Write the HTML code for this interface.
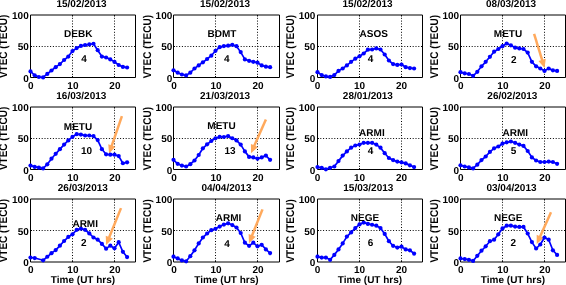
<!DOCTYPE html>
<html><head><meta charset="utf-8"><title>VTEC</title>
<style>
html,body{margin:0;padding:0;background:#fff;width:566px;height:285px;overflow:hidden;}
svg{display:block;will-change:transform;}
text{font-family:"Liberation Sans",sans-serif;text-rendering:geometricPrecision;}
.b{font-weight:bold;font-size:10px;fill:#000;}
.st{font-size:10px;font-weight:bold;fill:#000;}
.nm{font-size:10px;font-weight:bold;fill:#000;}
</style></head><body>
<svg width="566" height="285" viewBox="0 0 566 285">
<rect width="566" height="285" fill="#fff"/>
<g>
<path d="M72.5 15V77.5M114.5 15V77.5M30.5 46.5H135.5" stroke="#000" stroke-width="1" stroke-dasharray="1 1.8" fill="none"/>
<path d="M30.5 15H135.5V77.5H30.5Z" stroke="#000" stroke-width="1" fill="none"/>
<path d="M72.5 15v1.5M72.5 77.5v-1.5M114.5 15v1.5M114.5 77.5v-1.5M30.5 46.5h1.5M135.5 46.5h-1.5" stroke="#000" stroke-width="1" fill="none"/>
<path d="M30.5 71.38 34.7 75.31 38.9 77 43.1 77.38 47.3 73.88 51.5 70.5 55.7 67.19 59.9 64.06 64.1 60 68.3 56.56 72.5 51.06 76.7 48.12 80.9 45.94 85.1 45 89.3 44.38 93.5 43.75 97.7 50.19 101.9 56.56 106.1 57.5 110.3 59.38 114.5 61.88 118.7 65 122.9 66.88 127.1 67.5" stroke="#0000FF" stroke-width="1.7" fill="none" stroke-linejoin="round"/>
<g fill="#0000FF"><circle cx="30.5" cy="71.38" r="2.1"/><circle cx="34.7" cy="75.31" r="2.1"/><circle cx="38.9" cy="77" r="2.1"/><circle cx="43.1" cy="77.38" r="2.1"/><circle cx="47.3" cy="73.88" r="2.1"/><circle cx="51.5" cy="70.5" r="2.1"/><circle cx="55.7" cy="67.19" r="2.1"/><circle cx="59.9" cy="64.06" r="2.1"/><circle cx="64.1" cy="60" r="2.1"/><circle cx="68.3" cy="56.56" r="2.1"/><circle cx="72.5" cy="51.06" r="2.1"/><circle cx="76.7" cy="48.12" r="2.1"/><circle cx="80.9" cy="45.94" r="2.1"/><circle cx="85.1" cy="45" r="2.1"/><circle cx="89.3" cy="44.38" r="2.1"/><circle cx="93.5" cy="43.75" r="2.1"/><circle cx="97.7" cy="50.19" r="2.1"/><circle cx="101.9" cy="56.56" r="2.1"/><circle cx="106.1" cy="57.5" r="2.1"/><circle cx="110.3" cy="59.38" r="2.1"/><circle cx="114.5" cy="61.88" r="2.1"/><circle cx="118.7" cy="65" r="2.1"/><circle cx="122.9" cy="66.88" r="2.1"/><circle cx="127.1" cy="67.5" r="2.1"/></g>
<text class="st" x="78.2" y="37.3" text-anchor="middle">DEBK</text>
<text class="nm" x="84" y="62.4" text-anchor="middle">4</text>
<text class="b" x="81.5" y="6.8" text-anchor="middle">15/02/2013</text>
<text class="b" x="28.75" y="81.6" text-anchor="end">0</text>
<text class="b" x="28.75" y="50.35" text-anchor="end">50</text>
<text class="b" x="28.75" y="19.1" text-anchor="end">100</text>
<text class="b" x="30.9" y="88.8" text-anchor="middle">0</text>
<text class="b" x="72.9" y="88.8" text-anchor="middle">10</text>
<text class="b" x="114.9" y="88.8" text-anchor="middle">20</text>
<text class="b" transform="translate(7.1 46.45) rotate(-90) scale(1 1.12)" x="0" y="0" text-anchor="middle">VTEC (TECU)</text>
</g>
<g>
<path d="M215.5 15V77.5M257.5 15V77.5M173.5 46.5H279.5" stroke="#000" stroke-width="1" stroke-dasharray="1 1.8" fill="none"/>
<path d="M173.5 15H279.5V77.5H173.5Z" stroke="#000" stroke-width="1" fill="none"/>
<path d="M215.5 15v1.5M215.5 77.5v-1.5M257.5 15v1.5M257.5 77.5v-1.5M173.5 46.5h1.5M279.5 46.5h-1.5" stroke="#000" stroke-width="1" fill="none"/>
<path d="M173.5 70.31 177.7 72.69 181.9 74.5 186.1 75.38 190.3 72.69 194.5 68.5 198.7 65.38 202.9 62.31 207.1 59 211.3 55.69 215.5 50.81 219.7 47.19 223.9 46.06 228.1 45.69 232.3 44.81 236.5 46.19 240.7 52.12 244.9 59.38 249.1 60.81 253.3 61.81 257.5 62.69 261.7 65.38 265.9 66.69 270.1 67.19" stroke="#0000FF" stroke-width="1.7" fill="none" stroke-linejoin="round"/>
<g fill="#0000FF"><circle cx="173.5" cy="70.31" r="2.1"/><circle cx="177.7" cy="72.69" r="2.1"/><circle cx="181.9" cy="74.5" r="2.1"/><circle cx="186.1" cy="75.38" r="2.1"/><circle cx="190.3" cy="72.69" r="2.1"/><circle cx="194.5" cy="68.5" r="2.1"/><circle cx="198.7" cy="65.38" r="2.1"/><circle cx="202.9" cy="62.31" r="2.1"/><circle cx="207.1" cy="59" r="2.1"/><circle cx="211.3" cy="55.69" r="2.1"/><circle cx="215.5" cy="50.81" r="2.1"/><circle cx="219.7" cy="47.19" r="2.1"/><circle cx="223.9" cy="46.06" r="2.1"/><circle cx="228.1" cy="45.69" r="2.1"/><circle cx="232.3" cy="44.81" r="2.1"/><circle cx="236.5" cy="46.19" r="2.1"/><circle cx="240.7" cy="52.12" r="2.1"/><circle cx="244.9" cy="59.38" r="2.1"/><circle cx="249.1" cy="60.81" r="2.1"/><circle cx="253.3" cy="61.81" r="2.1"/><circle cx="257.5" cy="62.69" r="2.1"/><circle cx="261.7" cy="65.38" r="2.1"/><circle cx="265.9" cy="66.69" r="2.1"/><circle cx="270.1" cy="67.19" r="2.1"/></g>
<text class="st" x="221.9" y="37.3" text-anchor="middle">BDMT</text>
<text class="nm" x="226.9" y="62.2" text-anchor="middle">4</text>
<text class="b" x="225.1" y="6.8" text-anchor="middle">15/02/2013</text>
<text class="b" x="172.3" y="81.6" text-anchor="end">0</text>
<text class="b" x="172.3" y="50.35" text-anchor="end">50</text>
<text class="b" x="172.3" y="19.1" text-anchor="end">100</text>
<text class="b" x="174.1" y="88.8" text-anchor="middle">0</text>
<text class="b" x="216.1" y="88.8" text-anchor="middle">10</text>
<text class="b" x="258.1" y="88.8" text-anchor="middle">20</text>
<text class="b" transform="translate(151.4 46.65) rotate(-90) scale(1 1.12)" x="0" y="0" text-anchor="middle">VTEC (TECU)</text>
</g>
<g>
<path d="M359.5 15V77.5M401.5 15V77.5M317.5 46.5H422.5" stroke="#000" stroke-width="1" stroke-dasharray="1 1.8" fill="none"/>
<path d="M317.5 15H422.5V77.5H317.5Z" stroke="#000" stroke-width="1" fill="none"/>
<path d="M359.5 15v1.5M359.5 77.5v-1.5M401.5 15v1.5M401.5 77.5v-1.5M317.5 46.5h1.5M422.5 46.5h-1.5" stroke="#000" stroke-width="1" fill="none"/>
<path d="M317.5 72.19 321.7 75.12 325.9 76.38 330.1 76.88 334.3 75.12 338.5 70.88 342.7 68.5 346.9 65.38 351.1 61.81 355.3 58.69 359.5 56.31 363.7 53.5 367.9 49.69 372.1 49.5 376.3 48.38 380.5 49.5 384.7 54.5 388.9 60.5 393.1 64.12 397.3 64.88 401.5 64.5 405.7 67.19 409.9 68.12 414.1 68.5" stroke="#0000FF" stroke-width="1.7" fill="none" stroke-linejoin="round"/>
<g fill="#0000FF"><circle cx="317.5" cy="72.19" r="2.1"/><circle cx="321.7" cy="75.12" r="2.1"/><circle cx="325.9" cy="76.38" r="2.1"/><circle cx="330.1" cy="76.88" r="2.1"/><circle cx="334.3" cy="75.12" r="2.1"/><circle cx="338.5" cy="70.88" r="2.1"/><circle cx="342.7" cy="68.5" r="2.1"/><circle cx="346.9" cy="65.38" r="2.1"/><circle cx="351.1" cy="61.81" r="2.1"/><circle cx="355.3" cy="58.69" r="2.1"/><circle cx="359.5" cy="56.31" r="2.1"/><circle cx="363.7" cy="53.5" r="2.1"/><circle cx="367.9" cy="49.69" r="2.1"/><circle cx="372.1" cy="49.5" r="2.1"/><circle cx="376.3" cy="48.38" r="2.1"/><circle cx="380.5" cy="49.5" r="2.1"/><circle cx="384.7" cy="54.5" r="2.1"/><circle cx="388.9" cy="60.5" r="2.1"/><circle cx="393.1" cy="64.12" r="2.1"/><circle cx="397.3" cy="64.88" r="2.1"/><circle cx="401.5" cy="64.5" r="2.1"/><circle cx="405.7" cy="67.19" r="2.1"/><circle cx="409.9" cy="68.12" r="2.1"/><circle cx="414.1" cy="68.5" r="2.1"/></g>
<text class="st" x="373.7" y="37.4" text-anchor="middle">ASOS</text>
<text class="nm" x="370.6" y="62.3" text-anchor="middle">4</text>
<text class="b" x="367.6" y="6.8" text-anchor="middle">15/02/2013</text>
<text class="b" x="315.4" y="81.6" text-anchor="end">0</text>
<text class="b" x="315.4" y="50.35" text-anchor="end">50</text>
<text class="b" x="315.4" y="19.1" text-anchor="end">100</text>
<text class="b" x="317.5" y="88.8" text-anchor="middle">0</text>
<text class="b" x="359.5" y="88.8" text-anchor="middle">10</text>
<text class="b" x="401.5" y="88.8" text-anchor="middle">20</text>
<text class="b" transform="translate(294.4 46.65) rotate(-90) scale(1 1.12)" x="0" y="0" text-anchor="middle">VTEC (TECU)</text>
</g>
<g>
<path d="M502.5 15V77.5M544.5 15V77.5M460.5 46.5H565.5" stroke="#000" stroke-width="1" stroke-dasharray="1 1.8" fill="none"/>
<path d="M460.5 15H565.5V77.5H460.5Z" stroke="#000" stroke-width="1" fill="none"/>
<path d="M502.5 15v1.5M502.5 77.5v-1.5M544.5 15v1.5M544.5 77.5v-1.5M460.5 46.5h1.5M565.5 46.5h-1.5" stroke="#000" stroke-width="1" fill="none"/>
<path d="M534.1 33.8L542.4 60.83" stroke="#FFA95C" stroke-width="2.5" fill="none"/>
<path d="M544.6 68L538.47 60.99L545.74 58.76Z" fill="#FFA95C"/>
<path d="M460.5 72.19 464.7 73.31 468.9 74 473.1 75.81 477.3 71.81 481.5 66.31 485.7 61.81 489.9 56.81 494.1 51.69 498.3 49 502.5 46.19 506.7 43.5 510.9 45.31 515.1 47.69 519.3 48.38 523.5 49 527.7 52.62 531.9 61.81 536.1 66.31 540.3 68.5 544.5 70.88 548.7 68.5 552.9 70.31 557.1 70.88" stroke="#0000FF" stroke-width="1.7" fill="none" stroke-linejoin="round"/>
<g fill="#0000FF"><circle cx="460.5" cy="72.19" r="2.1"/><circle cx="464.7" cy="73.31" r="2.1"/><circle cx="468.9" cy="74" r="2.1"/><circle cx="473.1" cy="75.81" r="2.1"/><circle cx="477.3" cy="71.81" r="2.1"/><circle cx="481.5" cy="66.31" r="2.1"/><circle cx="485.7" cy="61.81" r="2.1"/><circle cx="489.9" cy="56.81" r="2.1"/><circle cx="494.1" cy="51.69" r="2.1"/><circle cx="498.3" cy="49" r="2.1"/><circle cx="502.5" cy="46.19" r="2.1"/><circle cx="506.7" cy="43.5" r="2.1"/><circle cx="510.9" cy="45.31" r="2.1"/><circle cx="515.1" cy="47.69" r="2.1"/><circle cx="519.3" cy="48.38" r="2.1"/><circle cx="523.5" cy="49" r="2.1"/><circle cx="527.7" cy="52.62" r="2.1"/><circle cx="531.9" cy="61.81" r="2.1"/><circle cx="536.1" cy="66.31" r="2.1"/><circle cx="540.3" cy="68.5" r="2.1"/><circle cx="544.5" cy="70.88" r="2.1"/><circle cx="548.7" cy="68.5" r="2.1"/><circle cx="552.9" cy="70.31" r="2.1"/><circle cx="557.1" cy="70.88" r="2.1"/></g>
<text class="st" x="508" y="37.3" text-anchor="middle">METU</text>
<text class="nm" x="513.8" y="62.5" text-anchor="middle">2</text>
<text class="b" x="511.1" y="6.8" text-anchor="middle">08/03/2013</text>
<text class="b" x="459.1" y="81.6" text-anchor="end">0</text>
<text class="b" x="459.1" y="50.35" text-anchor="end">50</text>
<text class="b" x="459.1" y="19.1" text-anchor="end">100</text>
<text class="b" x="460.9" y="88.8" text-anchor="middle">0</text>
<text class="b" x="502.9" y="88.8" text-anchor="middle">10</text>
<text class="b" x="544.9" y="88.8" text-anchor="middle">20</text>
<text class="b" transform="translate(437.8 46.65) rotate(-90) scale(1 1.12)" x="0" y="0" text-anchor="middle">VTEC (TECU)</text>
</g>
<g>
<path d="M72.5 107V169.5M114.5 107V169.5M30.5 138.5H135.5" stroke="#000" stroke-width="1" stroke-dasharray="1 1.8" fill="none"/>
<path d="M30.5 107H135.5V169.5H30.5Z" stroke="#000" stroke-width="1" fill="none"/>
<path d="M72.5 107v1.5M72.5 169.5v-1.5M114.5 107v1.5M114.5 169.5v-1.5M30.5 138.5h1.5M135.5 138.5h-1.5" stroke="#000" stroke-width="1" fill="none"/>
<path d="M121.9 116.1L111.53 146.4" stroke="#FFA95C" stroke-width="2.5" fill="none"/>
<path d="M109.1 153.5L108.26 144.23L115.45 146.69Z" fill="#FFA95C"/>
<path d="M30.5 165.62 34.7 166.88 38.9 167.56 43.1 168.38 47.3 164.31 51.5 158.69 55.7 153.81 59.9 149.19 64.1 144.62 68.3 140.38 72.5 136.81 76.7 134.19 80.9 134.62 85.1 135.5 89.3 135.5 93.5 136.12 97.7 140.12 101.9 149.19 106.1 154.31 110.3 154.69 114.5 154.69 118.7 156.12 122.9 163.25 127.1 162.31" stroke="#0000FF" stroke-width="1.7" fill="none" stroke-linejoin="round"/>
<g fill="#0000FF"><circle cx="30.5" cy="165.62" r="2.1"/><circle cx="34.7" cy="166.88" r="2.1"/><circle cx="38.9" cy="167.56" r="2.1"/><circle cx="43.1" cy="168.38" r="2.1"/><circle cx="47.3" cy="164.31" r="2.1"/><circle cx="51.5" cy="158.69" r="2.1"/><circle cx="55.7" cy="153.81" r="2.1"/><circle cx="59.9" cy="149.19" r="2.1"/><circle cx="64.1" cy="144.62" r="2.1"/><circle cx="68.3" cy="140.38" r="2.1"/><circle cx="72.5" cy="136.81" r="2.1"/><circle cx="76.7" cy="134.19" r="2.1"/><circle cx="80.9" cy="134.62" r="2.1"/><circle cx="85.1" cy="135.5" r="2.1"/><circle cx="89.3" cy="135.5" r="2.1"/><circle cx="93.5" cy="136.12" r="2.1"/><circle cx="97.7" cy="140.12" r="2.1"/><circle cx="101.9" cy="149.19" r="2.1"/><circle cx="106.1" cy="154.31" r="2.1"/><circle cx="110.3" cy="154.69" r="2.1"/><circle cx="114.5" cy="154.69" r="2.1"/><circle cx="118.7" cy="156.12" r="2.1"/><circle cx="122.9" cy="163.25" r="2.1"/><circle cx="127.1" cy="162.31" r="2.1"/></g>
<text class="st" x="78" y="129.5" text-anchor="middle">METU</text>
<text class="nm" x="86.6" y="154.1" text-anchor="middle">10</text>
<text class="b" x="81.35" y="98.8" text-anchor="middle">16/03/2013</text>
<text class="b" x="28.75" y="173.6" text-anchor="end">0</text>
<text class="b" x="28.75" y="142.35" text-anchor="end">50</text>
<text class="b" x="28.75" y="111.1" text-anchor="end">100</text>
<text class="b" x="30.9" y="180.8" text-anchor="middle">0</text>
<text class="b" x="72.9" y="180.8" text-anchor="middle">10</text>
<text class="b" x="114.9" y="180.8" text-anchor="middle">20</text>
<text class="b" transform="translate(7.1 138.45) rotate(-90) scale(1 1.12)" x="0" y="0" text-anchor="middle">VTEC (TECU)</text>
</g>
<g>
<path d="M215.5 107V169.5M257.5 107V169.5M173.5 138.5H279.5" stroke="#000" stroke-width="1" stroke-dasharray="1 1.8" fill="none"/>
<path d="M173.5 107H279.5V169.5H173.5Z" stroke="#000" stroke-width="1" fill="none"/>
<path d="M215.5 107v1.5M215.5 169.5v-1.5M257.5 107v1.5M257.5 169.5v-1.5M173.5 138.5h1.5M279.5 138.5h-1.5" stroke="#000" stroke-width="1" fill="none"/>
<path d="M265.9 119.4L254.03 146.34" stroke="#FFA95C" stroke-width="2.5" fill="none"/>
<path d="M251 153.2L250.95 143.89L257.91 146.96Z" fill="#FFA95C"/>
<path d="M173.5 159.81 177.7 163.81 181.9 165.62 186.1 166.5 190.3 164.19 194.5 160.5 198.7 155 202.9 148.31 207.1 144.31 211.3 141 215.5 138.25 219.7 136.81 223.9 137 228.1 136.12 232.3 138.25 236.5 140.38 240.7 144.62 244.9 151.38 249.1 156.88 253.3 157.38 257.5 158.69 261.7 157.38 265.9 155.62 270.1 159.81" stroke="#0000FF" stroke-width="1.7" fill="none" stroke-linejoin="round"/>
<g fill="#0000FF"><circle cx="173.5" cy="159.81" r="2.1"/><circle cx="177.7" cy="163.81" r="2.1"/><circle cx="181.9" cy="165.62" r="2.1"/><circle cx="186.1" cy="166.5" r="2.1"/><circle cx="190.3" cy="164.19" r="2.1"/><circle cx="194.5" cy="160.5" r="2.1"/><circle cx="198.7" cy="155" r="2.1"/><circle cx="202.9" cy="148.31" r="2.1"/><circle cx="207.1" cy="144.31" r="2.1"/><circle cx="211.3" cy="141" r="2.1"/><circle cx="215.5" cy="138.25" r="2.1"/><circle cx="219.7" cy="136.81" r="2.1"/><circle cx="223.9" cy="137" r="2.1"/><circle cx="228.1" cy="136.12" r="2.1"/><circle cx="232.3" cy="138.25" r="2.1"/><circle cx="236.5" cy="140.38" r="2.1"/><circle cx="240.7" cy="144.62" r="2.1"/><circle cx="244.9" cy="151.38" r="2.1"/><circle cx="249.1" cy="156.88" r="2.1"/><circle cx="253.3" cy="157.38" r="2.1"/><circle cx="257.5" cy="158.69" r="2.1"/><circle cx="261.7" cy="157.38" r="2.1"/><circle cx="265.9" cy="155.62" r="2.1"/><circle cx="270.1" cy="159.81" r="2.1"/></g>
<text class="st" x="221.5" y="129.4" text-anchor="middle">METU</text>
<text class="nm" x="230" y="153.9" text-anchor="middle">13</text>
<text class="b" x="225.1" y="98.8" text-anchor="middle">21/03/2013</text>
<text class="b" x="172.3" y="173.6" text-anchor="end">0</text>
<text class="b" x="172.3" y="142.35" text-anchor="end">50</text>
<text class="b" x="172.3" y="111.1" text-anchor="end">100</text>
<text class="b" x="174.1" y="180.8" text-anchor="middle">0</text>
<text class="b" x="216.1" y="180.8" text-anchor="middle">10</text>
<text class="b" x="258.1" y="180.8" text-anchor="middle">20</text>
<text class="b" transform="translate(151.4 138.65) rotate(-90) scale(1 1.12)" x="0" y="0" text-anchor="middle">VTEC (TECU)</text>
</g>
<g>
<path d="M359.5 107V169.5M401.5 107V169.5M317.5 138.5H422.5" stroke="#000" stroke-width="1" stroke-dasharray="1 1.8" fill="none"/>
<path d="M317.5 107H422.5V169.5H317.5Z" stroke="#000" stroke-width="1" fill="none"/>
<path d="M359.5 107v1.5M359.5 169.5v-1.5M401.5 107v1.5M401.5 169.5v-1.5M317.5 138.5h1.5M422.5 138.5h-1.5" stroke="#000" stroke-width="1" fill="none"/>
<path d="M317.5 167.12 321.7 167.81 325.9 169.31 330.1 167.81 334.3 166.5 338.5 161.12 342.7 155.62 346.9 151.38 351.1 147.69 355.3 145.5 359.5 144.62 363.7 142.81 367.9 142.81 372.1 142.81 376.3 144.62 380.5 147.69 384.7 153.19 388.9 158 393.1 160.12 397.3 161.62 401.5 162.31 405.7 163.38 409.9 165.31 414.1 167.12" stroke="#0000FF" stroke-width="1.7" fill="none" stroke-linejoin="round"/>
<g fill="#0000FF"><circle cx="317.5" cy="167.12" r="2.1"/><circle cx="321.7" cy="167.81" r="2.1"/><circle cx="325.9" cy="169.31" r="2.1"/><circle cx="330.1" cy="167.81" r="2.1"/><circle cx="334.3" cy="166.5" r="2.1"/><circle cx="338.5" cy="161.12" r="2.1"/><circle cx="342.7" cy="155.62" r="2.1"/><circle cx="346.9" cy="151.38" r="2.1"/><circle cx="351.1" cy="147.69" r="2.1"/><circle cx="355.3" cy="145.5" r="2.1"/><circle cx="359.5" cy="144.62" r="2.1"/><circle cx="363.7" cy="142.81" r="2.1"/><circle cx="367.9" cy="142.81" r="2.1"/><circle cx="372.1" cy="142.81" r="2.1"/><circle cx="376.3" cy="144.62" r="2.1"/><circle cx="380.5" cy="147.69" r="2.1"/><circle cx="384.7" cy="153.19" r="2.1"/><circle cx="388.9" cy="158" r="2.1"/><circle cx="393.1" cy="160.12" r="2.1"/><circle cx="397.3" cy="161.62" r="2.1"/><circle cx="401.5" cy="162.31" r="2.1"/><circle cx="405.7" cy="163.38" r="2.1"/><circle cx="409.9" cy="165.31" r="2.1"/><circle cx="414.1" cy="167.12" r="2.1"/></g>
<text class="st" x="371.9" y="136.2" text-anchor="middle">ARMI</text>
<text class="nm" x="370.6" y="153.9" text-anchor="middle">4</text>
<text class="b" x="367.9" y="98.8" text-anchor="middle">28/01/2013</text>
<text class="b" x="315.4" y="173.6" text-anchor="end">0</text>
<text class="b" x="315.4" y="142.35" text-anchor="end">50</text>
<text class="b" x="315.4" y="111.1" text-anchor="end">100</text>
<text class="b" x="317.5" y="180.8" text-anchor="middle">0</text>
<text class="b" x="359.5" y="180.8" text-anchor="middle">10</text>
<text class="b" x="401.5" y="180.8" text-anchor="middle">20</text>
<text class="b" transform="translate(294.4 138.65) rotate(-90) scale(1 1.12)" x="0" y="0" text-anchor="middle">VTEC (TECU)</text>
</g>
<g>
<path d="M502.5 107V169.5M544.5 107V169.5M460.5 138.5H565.5" stroke="#000" stroke-width="1" stroke-dasharray="1 1.8" fill="none"/>
<path d="M460.5 107H565.5V169.5H460.5Z" stroke="#000" stroke-width="1" fill="none"/>
<path d="M502.5 107v1.5M502.5 169.5v-1.5M544.5 107v1.5M544.5 169.5v-1.5M460.5 138.5h1.5M565.5 138.5h-1.5" stroke="#000" stroke-width="1" fill="none"/>
<path d="M460.5 165.31 464.7 166.5 468.9 167.38 473.1 168.38 477.3 164.69 481.5 160.12 485.7 156.5 489.9 151.88 494.1 148.31 498.3 146.5 502.5 143.69 506.7 142.31 510.9 141.5 515.1 142.81 519.3 144.62 523.5 145.88 527.7 151 531.9 157.38 536.1 160.5 540.3 162 544.5 162 548.7 161.62 552.9 162 557.1 163.81" stroke="#0000FF" stroke-width="1.7" fill="none" stroke-linejoin="round"/>
<g fill="#0000FF"><circle cx="460.5" cy="165.31" r="2.1"/><circle cx="464.7" cy="166.5" r="2.1"/><circle cx="468.9" cy="167.38" r="2.1"/><circle cx="473.1" cy="168.38" r="2.1"/><circle cx="477.3" cy="164.69" r="2.1"/><circle cx="481.5" cy="160.12" r="2.1"/><circle cx="485.7" cy="156.5" r="2.1"/><circle cx="489.9" cy="151.88" r="2.1"/><circle cx="494.1" cy="148.31" r="2.1"/><circle cx="498.3" cy="146.5" r="2.1"/><circle cx="502.5" cy="143.69" r="2.1"/><circle cx="506.7" cy="142.31" r="2.1"/><circle cx="510.9" cy="141.5" r="2.1"/><circle cx="515.1" cy="142.81" r="2.1"/><circle cx="519.3" cy="144.62" r="2.1"/><circle cx="523.5" cy="145.88" r="2.1"/><circle cx="527.7" cy="151" r="2.1"/><circle cx="531.9" cy="157.38" r="2.1"/><circle cx="536.1" cy="160.5" r="2.1"/><circle cx="540.3" cy="162" r="2.1"/><circle cx="544.5" cy="162" r="2.1"/><circle cx="548.7" cy="161.62" r="2.1"/><circle cx="552.9" cy="162" r="2.1"/><circle cx="557.1" cy="163.81" r="2.1"/></g>
<text class="st" x="515.3" y="136" text-anchor="middle">ARMI</text>
<text class="nm" x="513.6" y="153.9" text-anchor="middle">5</text>
<text class="b" x="512.4" y="98.8" text-anchor="middle">26/02/2013</text>
<text class="b" x="459.1" y="173.6" text-anchor="end">0</text>
<text class="b" x="459.1" y="142.35" text-anchor="end">50</text>
<text class="b" x="459.1" y="111.1" text-anchor="end">100</text>
<text class="b" x="460.9" y="180.8" text-anchor="middle">0</text>
<text class="b" x="502.9" y="180.8" text-anchor="middle">10</text>
<text class="b" x="544.9" y="180.8" text-anchor="middle">20</text>
<text class="b" transform="translate(437.8 138.65) rotate(-90) scale(1 1.12)" x="0" y="0" text-anchor="middle">VTEC (TECU)</text>
</g>
<g>
<path d="M72.5 199V262M114.5 199V262M30.5 230.5H135.5" stroke="#000" stroke-width="1" stroke-dasharray="1 1.8" fill="none"/>
<path d="M30.5 199H135.5V262H30.5Z" stroke="#000" stroke-width="1" fill="none"/>
<path d="M72.5 199v1.5M72.5 262v-1.5M114.5 199v1.5M114.5 262v-1.5M30.5 230.5h1.5M135.5 230.5h-1.5" stroke="#000" stroke-width="1" fill="none"/>
<path d="M121 208.1L108.91 238.05" stroke="#FFA95C" stroke-width="2.5" fill="none"/>
<path d="M106.1 245L105.76 235.7L112.81 238.54Z" fill="#FFA95C"/>
<path d="M30.5 257.53 34.7 258.03 43.1 260.3 47.3 256.77 51.5 253.18 55.7 250.09 59.9 245.68 64.1 241.02 68.3 236.93 72.5 234.28 76.7 229.87 80.9 228.67 85.1 229.87 89.3 233.4 93.5 237.49 97.7 239.63 101.9 243.92 106.1 248.64 110.3 245.68 114.5 248.33 118.7 242.22 122.9 251.79 127.1 257.09" stroke="#0000FF" stroke-width="1.7" fill="none" stroke-linejoin="round"/>
<g fill="#0000FF"><circle cx="30.5" cy="257.53" r="2.1"/><circle cx="34.7" cy="258.03" r="2.1"/><circle cx="43.1" cy="260.3" r="2.1"/><circle cx="47.3" cy="256.77" r="2.1"/><circle cx="51.5" cy="253.18" r="2.1"/><circle cx="55.7" cy="250.09" r="2.1"/><circle cx="59.9" cy="245.68" r="2.1"/><circle cx="64.1" cy="241.02" r="2.1"/><circle cx="68.3" cy="236.93" r="2.1"/><circle cx="72.5" cy="234.28" r="2.1"/><circle cx="76.7" cy="229.87" r="2.1"/><circle cx="80.9" cy="228.67" r="2.1"/><circle cx="85.1" cy="229.87" r="2.1"/><circle cx="89.3" cy="233.4" r="2.1"/><circle cx="93.5" cy="237.49" r="2.1"/><circle cx="97.7" cy="239.63" r="2.1"/><circle cx="101.9" cy="243.92" r="2.1"/><circle cx="106.1" cy="248.64" r="2.1"/><circle cx="110.3" cy="245.68" r="2.1"/><circle cx="114.5" cy="248.33" r="2.1"/><circle cx="118.7" cy="242.22" r="2.1"/><circle cx="122.9" cy="251.79" r="2.1"/><circle cx="127.1" cy="257.09" r="2.1"/></g>
<text class="st" x="85.2" y="227.4" text-anchor="middle">ARMI</text>
<text class="nm" x="83.8" y="246.3" text-anchor="middle">2</text>
<text class="b" x="82.8" y="190.8" text-anchor="middle">26/03/2013</text>
<text class="b" x="28.75" y="266.1" text-anchor="end">0</text>
<text class="b" x="28.75" y="234.6" text-anchor="end">50</text>
<text class="b" x="28.75" y="203.1" text-anchor="end">100</text>
<text class="b" x="30.9" y="273.3" text-anchor="middle">0</text>
<text class="b" x="72.9" y="273.3" text-anchor="middle">10</text>
<text class="b" x="114.9" y="273.3" text-anchor="middle">20</text>
<text class="b" transform="translate(7.1 230.7) rotate(-90) scale(1 1.12)" x="0" y="0" text-anchor="middle">VTEC (TECU)</text>
<text class="b" x="83" y="282.7" text-anchor="middle">Time (UT hrs)</text>
</g>
<g>
<path d="M215.5 199V262M257.5 199V262M173.5 230.5H279.5" stroke="#000" stroke-width="1" stroke-dasharray="1 1.8" fill="none"/>
<path d="M173.5 199H279.5V262H173.5Z" stroke="#000" stroke-width="1" fill="none"/>
<path d="M215.5 199v1.5M215.5 262v-1.5M257.5 199v1.5M257.5 262v-1.5M173.5 230.5h1.5M279.5 230.5h-1.5" stroke="#000" stroke-width="1" fill="none"/>
<path d="M262.5 209.4L251.78 236.24" stroke="#FFA95C" stroke-width="2.5" fill="none"/>
<path d="M249 243.2L248.62 233.9L255.68 236.72Z" fill="#FFA95C"/>
<path d="M173.5 256.71 177.7 258.47 181.9 260.43 186.1 261.31 190.3 256.2 194.5 250.28 198.7 243.41 202.9 237.49 207.1 233.52 211.3 230.19 215.5 228.8 219.7 226.59 223.9 224.58 228.1 223.32 232.3 225.08 236.5 227.48 240.7 233.02 244.9 242.72 249.1 245.81 253.3 242.72 257.5 246.31 261.7 244.8 265.9 249.4 270.1 253.12" stroke="#0000FF" stroke-width="1.7" fill="none" stroke-linejoin="round"/>
<g fill="#0000FF"><circle cx="173.5" cy="256.71" r="2.1"/><circle cx="177.7" cy="258.47" r="2.1"/><circle cx="181.9" cy="260.43" r="2.1"/><circle cx="186.1" cy="261.31" r="2.1"/><circle cx="190.3" cy="256.2" r="2.1"/><circle cx="194.5" cy="250.28" r="2.1"/><circle cx="198.7" cy="243.41" r="2.1"/><circle cx="202.9" cy="237.49" r="2.1"/><circle cx="207.1" cy="233.52" r="2.1"/><circle cx="211.3" cy="230.19" r="2.1"/><circle cx="215.5" cy="228.8" r="2.1"/><circle cx="219.7" cy="226.59" r="2.1"/><circle cx="223.9" cy="224.58" r="2.1"/><circle cx="228.1" cy="223.32" r="2.1"/><circle cx="232.3" cy="225.08" r="2.1"/><circle cx="236.5" cy="227.48" r="2.1"/><circle cx="240.7" cy="233.02" r="2.1"/><circle cx="244.9" cy="242.72" r="2.1"/><circle cx="249.1" cy="245.81" r="2.1"/><circle cx="253.3" cy="242.72" r="2.1"/><circle cx="257.5" cy="246.31" r="2.1"/><circle cx="261.7" cy="244.8" r="2.1"/><circle cx="265.9" cy="249.4" r="2.1"/><circle cx="270.1" cy="253.12" r="2.1"/></g>
<text class="st" x="228.6" y="221.2" text-anchor="middle">ARMI</text>
<text class="nm" x="227" y="246.5" text-anchor="middle">4</text>
<text class="b" x="226.45" y="190.8" text-anchor="middle">04/04/2013</text>
<text class="b" x="172.3" y="266.1" text-anchor="end">0</text>
<text class="b" x="172.3" y="234.6" text-anchor="end">50</text>
<text class="b" x="172.3" y="203.1" text-anchor="end">100</text>
<text class="b" x="174.1" y="273.3" text-anchor="middle">0</text>
<text class="b" x="216.1" y="273.3" text-anchor="middle">10</text>
<text class="b" x="258.1" y="273.3" text-anchor="middle">20</text>
<text class="b" transform="translate(151.4 230.9) rotate(-90) scale(1 1.12)" x="0" y="0" text-anchor="middle">VTEC (TECU)</text>
<text class="b" x="226.5" y="282.7" text-anchor="middle">Time (UT hrs)</text>
</g>
<g>
<path d="M359.5 199V262M401.5 199V262M317.5 230.5H422.5" stroke="#000" stroke-width="1" stroke-dasharray="1 1.8" fill="none"/>
<path d="M317.5 199H422.5V262H317.5Z" stroke="#000" stroke-width="1" fill="none"/>
<path d="M359.5 199v1.5M359.5 262v-1.5M401.5 199v1.5M401.5 262v-1.5M317.5 230.5h1.5M422.5 230.5h-1.5" stroke="#000" stroke-width="1" fill="none"/>
<path d="M317.5 256.71 321.7 257.59 325.9 257.59 330.1 259.8 334.3 254.88 338.5 249.4 342.7 243.41 346.9 236.61 351.1 232.39 355.3 228.11 359.5 224.39 363.7 222.62 367.9 223.88 372.1 224.77 376.3 225.71 380.5 228.11 384.7 233.9 388.9 241.21 393.1 245.81 397.3 247.57 401.5 246.69 405.7 249.4 409.9 250.28 414.1 253.62" stroke="#0000FF" stroke-width="1.7" fill="none" stroke-linejoin="round"/>
<g fill="#0000FF"><circle cx="317.5" cy="256.71" r="2.1"/><circle cx="321.7" cy="257.59" r="2.1"/><circle cx="325.9" cy="257.59" r="2.1"/><circle cx="330.1" cy="259.8" r="2.1"/><circle cx="334.3" cy="254.88" r="2.1"/><circle cx="338.5" cy="249.4" r="2.1"/><circle cx="342.7" cy="243.41" r="2.1"/><circle cx="346.9" cy="236.61" r="2.1"/><circle cx="351.1" cy="232.39" r="2.1"/><circle cx="355.3" cy="228.11" r="2.1"/><circle cx="359.5" cy="224.39" r="2.1"/><circle cx="363.7" cy="222.62" r="2.1"/><circle cx="367.9" cy="223.88" r="2.1"/><circle cx="372.1" cy="224.77" r="2.1"/><circle cx="376.3" cy="225.71" r="2.1"/><circle cx="380.5" cy="228.11" r="2.1"/><circle cx="384.7" cy="233.9" r="2.1"/><circle cx="388.9" cy="241.21" r="2.1"/><circle cx="393.1" cy="245.81" r="2.1"/><circle cx="397.3" cy="247.57" r="2.1"/><circle cx="401.5" cy="246.69" r="2.1"/><circle cx="405.7" cy="249.4" r="2.1"/><circle cx="409.9" cy="250.28" r="2.1"/><circle cx="414.1" cy="253.62" r="2.1"/></g>
<text class="st" x="365" y="221.2" text-anchor="middle">NEGE</text>
<text class="nm" x="370.5" y="246.2" text-anchor="middle">6</text>
<text class="b" x="368.3" y="190.8" text-anchor="middle">15/03/2013</text>
<text class="b" x="315.4" y="266.1" text-anchor="end">0</text>
<text class="b" x="315.4" y="234.6" text-anchor="end">50</text>
<text class="b" x="315.4" y="203.1" text-anchor="end">100</text>
<text class="b" x="317.5" y="273.3" text-anchor="middle">0</text>
<text class="b" x="359.5" y="273.3" text-anchor="middle">10</text>
<text class="b" x="401.5" y="273.3" text-anchor="middle">20</text>
<text class="b" transform="translate(294.4 230.9) rotate(-90) scale(1 1.12)" x="0" y="0" text-anchor="middle">VTEC (TECU)</text>
<text class="b" x="370" y="282.7" text-anchor="middle">Time (UT hrs)</text>
</g>
<g>
<path d="M502.5 199V262M544.5 199V262M460.5 230.5H565.5" stroke="#000" stroke-width="1" stroke-dasharray="1 1.8" fill="none"/>
<path d="M460.5 199H565.5V262H460.5Z" stroke="#000" stroke-width="1" fill="none"/>
<path d="M502.5 199v1.5M502.5 262v-1.5M544.5 199v1.5M544.5 262v-1.5M460.5 230.5h1.5M565.5 230.5h-1.5" stroke="#000" stroke-width="1" fill="none"/>
<path d="M551 212.2L539.77 237.26" stroke="#FFA95C" stroke-width="2.5" fill="none"/>
<path d="M536.7 244.1L536.71 234.79L543.64 237.9Z" fill="#FFA95C"/>
<path d="M460.5 258.47 464.7 259.1 468.9 259.8 473.1 260.93 477.3 255.83 481.5 250.72 485.7 246.31 489.9 241.21 494.1 239.7 498.3 234.28 502.5 228.42 506.7 225.71 510.9 225.71 515.1 226.59 519.3 226.97 523.5 226.97 527.7 233.52 531.9 242.09 536.1 248.52 540.3 244.49 544.5 237.49 548.7 239.7 552.9 250.28 557.1 254.88" stroke="#0000FF" stroke-width="1.7" fill="none" stroke-linejoin="round"/>
<g fill="#0000FF"><circle cx="460.5" cy="258.47" r="2.1"/><circle cx="464.7" cy="259.1" r="2.1"/><circle cx="468.9" cy="259.8" r="2.1"/><circle cx="473.1" cy="260.93" r="2.1"/><circle cx="477.3" cy="255.83" r="2.1"/><circle cx="481.5" cy="250.72" r="2.1"/><circle cx="485.7" cy="246.31" r="2.1"/><circle cx="489.9" cy="241.21" r="2.1"/><circle cx="494.1" cy="239.7" r="2.1"/><circle cx="498.3" cy="234.28" r="2.1"/><circle cx="502.5" cy="228.42" r="2.1"/><circle cx="506.7" cy="225.71" r="2.1"/><circle cx="510.9" cy="225.71" r="2.1"/><circle cx="515.1" cy="226.59" r="2.1"/><circle cx="519.3" cy="226.97" r="2.1"/><circle cx="523.5" cy="226.97" r="2.1"/><circle cx="527.7" cy="233.52" r="2.1"/><circle cx="531.9" cy="242.09" r="2.1"/><circle cx="536.1" cy="248.52" r="2.1"/><circle cx="540.3" cy="244.49" r="2.1"/><circle cx="544.5" cy="237.49" r="2.1"/><circle cx="548.7" cy="239.7" r="2.1"/><circle cx="552.9" cy="250.28" r="2.1"/><circle cx="557.1" cy="254.88" r="2.1"/></g>
<text class="st" x="508.2" y="221.2" text-anchor="middle">NEGE</text>
<text class="nm" x="513.4" y="246.3" text-anchor="middle">2</text>
<text class="b" x="511.5" y="190.8" text-anchor="middle">03/04/2013</text>
<text class="b" x="459.1" y="266.1" text-anchor="end">0</text>
<text class="b" x="459.1" y="234.6" text-anchor="end">50</text>
<text class="b" x="459.1" y="203.1" text-anchor="end">100</text>
<text class="b" x="460.9" y="273.3" text-anchor="middle">0</text>
<text class="b" x="502.9" y="273.3" text-anchor="middle">10</text>
<text class="b" x="544.9" y="273.3" text-anchor="middle">20</text>
<text class="b" transform="translate(437.8 230.9) rotate(-90) scale(1 1.12)" x="0" y="0" text-anchor="middle">VTEC (TECU)</text>
<text class="b" x="513" y="282.7" text-anchor="middle">Time (UT hrs)</text>
</g>
</svg>
</body></html>
